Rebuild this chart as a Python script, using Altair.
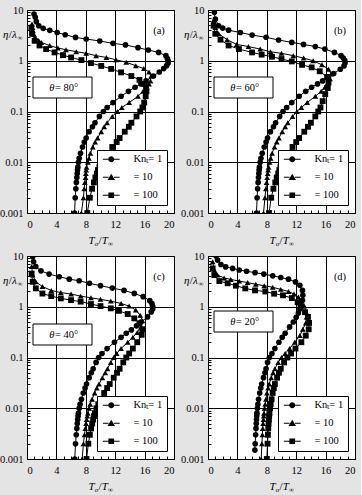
import altair as alt
import pandas as pd

# ---------------- data (T_o/T_inf , eta/lambda_inf) ----------------
# panel (a)  theta = 80 deg
A1_ETA = [8.3, 7.2, 5.9, 4.9, 4.35, 3.98, 3.6, 3.26, 2.88, 2.68, 2.45, 2.2, 2.05, 1.81, 1.63, 1.46, 1.26, 1.1, 1.0, 0.9,
          0.8, 0.7, 0.6, 0.5, 0.4, 0.35, 0.3, 0.25, 0.2, 0.15, 0.12, 0.1, 0.08, 0.06, 0.05, 0.04, 0.03, 0.025, 0.02, 0.015,
          0.012, 0.01, 0.008, 0.007, 0.006, 0.005, 0.004, 0.003, 0.002, 0.001]
A1_T = [0.95, 1.13, 1.27, 1.6, 2.2, 3.1, 4.1, 5.2, 6.6, 8.05, 9.9, 11.7, 13.4, 15.1, 16.5, 17.9, 18.9, 19.1, 19.2, 19.2,
        19.0, 18.6, 18.0, 17.2, 16.2, 15.5, 14.7, 13.8, 12.8, 11.7, 10.9, 10.4, 9.85, 9.25, 8.9, 8.45, 8.05, 7.8, 7.55, 7.28,
        7.1, 7.0, 6.92, 6.87, 6.83, 6.78, 6.72, 6.65, 6.56, 6.47]
A10_ETA = [5.3, 4.5, 3.9, 3.3, 2.88, 2.5, 2.3, 1.99, 1.78, 1.65, 1.51, 1.4, 1.26, 1.16, 1.05, 0.93, 0.8, 0.7, 0.6, 0.5,
           0.4, 0.35, 0.3, 0.25, 0.2, 0.15, 0.12, 0.1, 0.08, 0.06, 0.05, 0.04, 0.03, 0.025, 0.02, 0.015, 0.012, 0.01, 0.008,
           0.007, 0.006, 0.005, 0.004, 0.003, 0.002, 0.001]
A10_T = [0.68, 0.74, 0.81, 0.95, 1.13, 1.6, 1.95, 3.1, 4.2, 5.3, 6.7, 8.05, 9.4, 10.8, 12.1, 13.5, 14.8, 15.9, 16.6, 16.9,
         16.8, 16.6, 16.3, 15.8, 15.1, 13.9, 12.9, 12.3, 11.6, 10.9, 10.5, 10.1, 9.6, 9.27, 8.95, 8.62, 8.42, 8.28, 8.1,
         8.05, 8.0, 7.96, 7.87, 7.78, 7.68, 7.4]
A100_ETA = [4.5, 3.4, 2.47, 2.0, 1.7, 1.46, 1.29, 1.16, 1.03, 0.9, 0.79, 0.69, 0.59, 0.5, 0.42, 0.35, 0.3, 0.25, 0.2, 0.15,
            0.12, 0.1, 0.08, 0.06, 0.05, 0.04, 0.03, 0.025, 0.02, 0.015, 0.012, 0.01, 0.008, 0.007, 0.006, 0.005, 0.004,
            0.003, 0.002, 0.001]
A100_T = [0.59, 0.68, 1.04, 1.7, 2.6, 3.75, 4.9, 6.0, 7.4, 8.7, 10.1, 11.45, 12.8, 14.2, 15.3, 16.0, 16.2, 16.25, 16.15,
          15.95, 15.7, 15.4, 14.9, 14.2, 13.85, 13.3, 12.6, 12.2, 11.6, 11.0, 10.55, 10.2, 9.85, 9.65, 9.5, 9.3, 9.1, 8.85,
          8.55, 8.2]

# panel (b)  theta = 60 deg
B1_ETA = [9.0, 6.6, 4.9, 4.4, 4.0, 3.6, 3.2, 2.9, 2.56, 2.3, 2.1, 1.9, 1.7, 1.46, 1.26, 1.13, 1.02, 0.9, 0.79, 0.68, 0.56,
          0.48, 0.4, 0.35, 0.3, 0.25, 0.2, 0.15, 0.12, 0.1, 0.08, 0.06, 0.05, 0.04, 0.03, 0.025, 0.02, 0.015, 0.012, 0.01,
          0.008, 0.007, 0.006, 0.005, 0.004, 0.003, 0.002, 0.001]
B1_T = [0.86, 1.0, 1.45, 2.0, 2.8, 4.4, 6.0, 7.9, 9.6, 11.4, 13.0, 14.6, 15.9, 17.2, 18.1, 18.4, 18.6, 18.65, 18.5, 18.0,
        17.1, 16.4, 15.6, 14.9, 14.1, 13.3, 12.4, 11.4, 10.7, 10.2, 9.75, 9.2, 8.9, 8.5, 8.1, 7.9, 7.65, 7.38, 7.2, 7.1, 7.0,
        6.96, 6.92, 6.87, 6.82, 6.75, 6.68, 6.6]
B10_ETA = [6.2, 4.5, 3.4, 2.6, 2.1, 1.9, 1.7, 1.5, 1.4, 1.26, 1.13, 1.0, 0.83, 0.68, 0.55, 0.44, 0.35, 0.3, 0.25, 0.2,
           0.15, 0.12, 0.1, 0.08, 0.06, 0.05, 0.04, 0.03, 0.025, 0.02, 0.015, 0.012, 0.01, 0.008, 0.007, 0.006, 0.005,
           0.004, 0.003, 0.002, 0.001]
B10_T = [0.77, 1.0, 1.45, 2.6, 3.9, 5.5, 7.1, 8.5, 10.0, 11.6, 13.0, 14.3, 15.5, 16.4, 16.75, 16.6, 16.2, 15.9, 15.4, 14.6,
         13.5, 12.7, 12.1, 11.5, 10.85, 10.5, 10.1, 9.65, 9.35, 9.05, 8.72, 8.52, 8.38, 8.24, 8.18, 8.12, 8.05, 7.97, 7.88,
         7.75, 7.55]
B100_ETA = [4.9, 3.4, 2.6, 2.0, 1.7, 1.46, 1.32, 1.2, 1.08, 0.97, 0.83, 0.74, 0.62, 0.48, 0.37, 0.29, 0.22, 0.16, 0.12,
            0.1, 0.08, 0.06, 0.05, 0.04, 0.03, 0.025, 0.02, 0.015, 0.012, 0.01, 0.008, 0.007, 0.006, 0.005, 0.004, 0.003,
            0.002, 0.001]
B100_T = [0.77, 1.0, 1.7, 2.8, 4.2, 6.0, 7.3, 8.7, 10.0, 11.4, 12.8, 14.1, 15.2, 16.2, 16.4, 16.3, 15.95, 15.6, 15.3, 15.0,
          14.6, 14.0, 13.6, 13.1, 12.4, 12.0, 11.5, 10.9, 10.5, 10.15, 9.85, 9.7, 9.55, 9.35, 9.15, 8.9, 8.6, 8.3]

# panel (c)  theta = 40 deg
C1_ETA = [9.7, 7.7, 6.2, 5.1, 4.4, 3.9, 3.5, 3.25, 2.9, 2.6, 2.33, 2.1, 1.83, 1.58, 1.32, 1.15, 1.02, 0.9, 0.79, 0.63,
          0.5, 0.42, 0.35, 0.3, 0.25, 0.2, 0.15, 0.12, 0.1, 0.08, 0.06, 0.05, 0.04, 0.03, 0.025, 0.02, 0.015, 0.012, 0.01,
          0.008, 0.007, 0.006, 0.005, 0.004, 0.003, 0.002, 0.001]
C1_T = [0.77, 0.9, 1.2, 1.9, 3.0, 4.4, 5.75, 7.1, 8.5, 10.0, 11.6, 13.2, 14.6, 15.8, 16.7, 17.0, 17.1, 17.1, 16.9, 16.4,
        15.5, 14.9, 14.2, 13.5, 12.8, 11.9, 10.9, 10.2, 9.75, 9.4, 9.0, 8.75, 8.45, 8.1, 7.9, 7.65, 7.4, 7.22, 7.1, 7.0,
        6.95, 6.9, 6.84, 6.78, 6.7, 6.6, 6.5]
C10_ETA = [6.2, 4.2, 3.1, 2.5, 2.1, 1.9, 1.78, 1.62, 1.5, 1.4, 1.29, 1.16, 1.03, 0.86, 0.68, 0.53, 0.4, 0.31, 0.25, 0.2,
           0.15, 0.12, 0.1, 0.08, 0.06, 0.05, 0.04, 0.03, 0.025, 0.02, 0.015, 0.012, 0.01, 0.008, 0.007, 0.006, 0.005,
           0.004, 0.003, 0.002, 0.001]
C10_T = [0.63, 0.77, 1.2, 2.1, 3.3, 4.6, 6.0, 7.3, 8.7, 10.0, 11.4, 12.8, 13.9, 14.8, 15.4, 15.7, 15.5, 15.0, 14.4, 13.7,
         12.8, 12.2, 11.8, 11.4, 10.95, 10.65, 10.25, 9.8, 9.5, 9.2, 8.85, 8.6, 8.45, 8.28, 8.2, 8.12, 8.03, 7.93, 7.82,
         7.68, 7.5]
C100_ETA = [4.5, 3.1, 2.3, 1.82, 1.62, 1.46, 1.35, 1.26, 1.13, 1.03, 0.93, 0.83, 0.72, 0.59, 0.47, 0.36, 0.28, 0.2, 0.15,
            0.12, 0.1, 0.08, 0.06, 0.05, 0.04, 0.03, 0.025, 0.02, 0.015, 0.012, 0.01, 0.008, 0.007, 0.006, 0.005, 0.004,
            0.003, 0.002, 0.001]
C100_T = [0.63, 0.77, 1.2, 2.1, 3.3, 4.6, 6.0, 7.3, 8.7, 10.0, 11.4, 12.5, 13.7, 14.6, 15.3, 15.7, 15.6, 15.0, 14.4, 13.9,
          13.5, 13.1, 12.6, 12.25, 11.8, 11.25, 10.9, 10.5, 10.0, 9.7, 9.45, 9.23, 9.12, 9.0, 8.87, 8.72, 8.55, 8.35, 8.1]

# panel (d)  theta = 20 deg
D1_ETA = [10.0, 8.3, 6.8, 6.1, 5.7, 5.3, 5.0, 4.7, 4.4, 4.06, 3.77, 3.49, 3.09, 2.65, 2.1, 1.68, 1.34, 1.06, 0.9, 0.75,
          0.62, 0.5, 0.4, 0.3, 0.25, 0.2, 0.15, 0.12, 0.1, 0.08, 0.06, 0.05, 0.04, 0.03, 0.025, 0.02, 0.015, 0.012, 0.01,
          0.008, 0.007, 0.006, 0.005, 0.004, 0.003, 0.002, 0.0015]
D1_T = [1.1, 1.3, 1.76, 2.4, 3.35, 4.25, 5.25, 6.4, 7.6, 8.8, 9.9, 10.95, 11.9, 12.5, 12.85, 12.9, 12.85, 12.6, 12.5, 12.3,
        12.0, 11.6, 11.1, 10.5, 10.1, 9.65, 9.1, 8.7, 8.35, 8.1, 7.9, 7.75, 7.55, 7.3, 7.18, 7.03, 6.88, 6.79, 6.72, 6.66,
        6.63, 6.6, 6.57, 6.53, 6.48, 6.42, 6.38]
D10_ETA = [7.7, 5.3, 4.2, 3.7, 3.45, 3.2, 3.0, 2.77, 2.6, 2.42, 2.2, 2.0, 1.78, 1.55, 1.28, 1.03, 0.81, 0.63, 0.48, 0.36,
           0.27, 0.2, 0.15, 0.12, 0.1, 0.08, 0.06, 0.05, 0.04, 0.03, 0.025, 0.02, 0.015, 0.012, 0.01, 0.008, 0.007, 0.006,
           0.005, 0.004, 0.003, 0.002, 0.001]
D10_T = [0.63, 0.86, 1.3, 2.2, 3.1, 4.25, 5.4, 6.5, 7.65, 8.8, 9.9, 10.95, 11.7, 12.3, 12.76, 13.1, 13.3, 13.4, 13.3, 12.9,
         12.5, 11.8, 11.1, 10.5, 10.0, 9.55, 9.1, 8.85, 8.6, 8.33, 8.18, 8.02, 7.88, 7.78, 7.7, 7.62, 7.58, 7.54, 7.5, 7.45,
         7.4, 7.33, 7.24]
D100_ETA = [5.7, 4.2, 3.2, 2.9, 2.6, 2.3, 2.1, 2.0, 1.81, 1.68, 1.48, 1.23, 0.98, 0.78, 0.63, 0.48, 0.36, 0.27, 0.2, 0.15,
            0.12, 0.1, 0.08, 0.06, 0.05, 0.04, 0.03, 0.025, 0.02, 0.015, 0.012, 0.01, 0.008, 0.007, 0.006, 0.005, 0.004,
            0.003, 0.002, 0.001]
D100_T = [0.63, 0.86, 1.54, 2.67, 3.8, 5.07, 6.4, 7.8, 9.0, 10.2, 11.4, 12.2, 12.6, 13.2, 13.6, 13.75, 13.7, 13.3, 12.7,
          11.9, 11.3, 10.8, 10.35, 9.9, 9.65, 9.4, 9.1, 8.95, 8.8, 8.65, 8.53, 8.45, 8.36, 8.32, 8.28, 8.24, 8.2, 8.15,
          8.1, 8.0]

NB = "\u00a0"
KN_LABELS = ["Kn\u209c= 1", NB * 6 + "= 10", NB * 6 + "= 100"]
PANEL_TAGS = ["(a)", "(b)", "(c)", "(d)"]
PANEL_ANGLES = ["= 80°", "= 60°", "= 40°", "= 20°"]
BOX_TOPS = [67, 67, 68, 55]
PANEL_CURVES = [
    [(A1_T, A1_ETA), (A10_T, A10_ETA), (A100_T, A100_ETA)],
    [(B1_T, B1_ETA), (B10_T, B10_ETA), (B100_T, B100_ETA)],
    [(C1_T, C1_ETA), (C10_T, C10_ETA), (C100_T, C100_ETA)],
    [(D1_T, D1_ETA), (D10_T, D10_ETA), (D100_T, D100_ETA)],
]

X_TICKS = [0, 4, 8, 12, 16, 20]
Y_TICKS = [0.001, 0.01, 0.1, 1, 10]
X_MINOR = list(range(0, 21))
Y_MINOR = [round(m * 10.0 ** k, 4) for k in range(-3, 1) for m in range(2, 10)]

W, H = 147, 203
FONT = "'Liberation Serif', 'Times New Roman', Times, serif"

BAR_L = "M-2.8,-0.17H-0.9V0.17H-2.8Z"
BAR_R = "M0.9,-0.17H2.8V0.17H0.9Z"
LEG_PATHS = [
    BAR_L + BAR_R + "M1,0A1,1,0,1,1,-1,0A1,1,0,1,1,1,0Z",
    BAR_L + BAR_R + "M0,-1.15L1.25,0.95L-1.25,0.95Z",
    BAR_L + BAR_R + "M-0.95,-0.95H0.95V0.95H-0.95Z",
]


def txt(s, x, y, size=11, style="normal", align="left", baseline="alphabetic"):
    return alt.Chart(pd.DataFrame({"k": [0]})).mark_text(
        text=s, font=FONT, fontSize=size, fontStyle=style, align=align, baseline=baseline, color="black"
    ).encode(x=alt.value(x), y=alt.value(y))


def make_panel(tag, angle, box_top, curves):
    rows = []
    for name, (ts, es) in zip(KN_LABELS, curves):
        for i, (t, e) in enumerate(zip(ts, es)):
            rows.append({"T": t, "eta": e, "s": name, "i": i})
    df = pd.DataFrame(rows)

    xs = alt.Scale(domain=[0, 20], nice=False, zero=False)
    ys = alt.Scale(type="log", domain=[0.001, 10], nice=False)
    xenc = alt.X("T:Q", scale=xs, axis=alt.Axis(
        values=X_TICKS, grid=True, ticks=False, domain=False, labelPadding=6, title=None))
    yenc = alt.Y("eta:Q", scale=ys, axis=alt.Axis(
        values=Y_TICKS, format="~g", grid=True, ticks=False, domain=False, labelPadding=4, title=None))

    base = alt.Chart(df)
    line = base.mark_line(color="black", strokeWidth=1, clip=True).encode(
        x=xenc, y=yenc, detail="s:N", order="i:Q")
    pts = base.mark_point(filled=True, color="black", opacity=1, clip=True).encode(
        x=xenc, y=yenc,
        shape=alt.Shape("s:N", scale=alt.Scale(domain=KN_LABELS, range=["circle", "triangle-up", "square"]),
                        legend=None),
        size=alt.Size("s:N", scale=alt.Scale(domain=KN_LABELS, range=[32, 34, 34]), legend=None))
    legdf = pd.DataFrame({"s": KN_LABELS})
    leg = alt.Chart(legdf).mark_point(filled=True, fill="black", stroke="black", strokeWidth=0,
                                      size=36, clip=True).encode(
        x=alt.value(-60), y=alt.value(-60),
        shape=alt.Shape("s:N", scale=alt.Scale(domain=KN_LABELS, range=LEG_PATHS), legend=alt.Legend(
            title=None, orient="none", legendX=70, legendY=140, direction="vertical",
            fillColor="white", strokeColor="black", padding=4, symbolSize=36, symbolOffset=5,
            labelOffset=17, rowPadding=7, labelFont=FONT, labelFontSize=10.5, labelColor="black",
            symbolFillColor="black", symbolStrokeColor="black", symbolStrokeWidth=0, symbolOpacity=1,
            labelLimit=0)))
    one = pd.DataFrame({"k": [0]})
    box = alt.Chart(one).mark_rect(fill="white", stroke="black", strokeWidth=1).encode(
        x=alt.value(6), x2=alt.value(65), y=alt.value(box_top), y2=alt.value(box_top + 21))
    th = txt("θ", 27.5, box_top + 11, size=10.5, style="italic", align="right", baseline="middle")
    eq = txt(angle, 28, box_top + 11, size=10.5, baseline="middle")
    lab = txt(tag, 132, 21, size=10.5, align="center", baseline="middle")

    # axis titles  T_o / T_inf  and  eta / lambda_inf  (with real subscripts)
    x0 = W / 2 - 12
    xt = [txt("T", x0, H + 31, style="italic"),
          txt("o", x0 + 6.3, H + 33, size=7, style="italic"),
          txt("/", x0 + 10, H + 31),
          txt("T", x0 + 13.2, H + 31, style="italic"),
          txt("∞", x0 + 19.5, H + 33, size=7)]
    yt = [txt("η", -24, 28, style="italic"),
          txt("/", -18.2, 28),
          txt("λ", -15, 28, style="italic"),
          txt("∞", -9.5, 30, size=7)]

    main = alt.layer(line, pts, leg, box, th, eq, lab, *xt, *yt).resolve_scale(
        shape="independent", size="independent")

    minor = alt.Chart(df).mark_point(opacity=0, size=1).encode(
        x=alt.X("T:Q", scale=xs, axis=alt.Axis(orient="top", offset=-H, values=X_MINOR, labels=False,
                                               grid=False, domain=False, ticks=True, tickSize=3, title=None)),
        y=alt.Y("eta:Q", scale=ys, axis=alt.Axis(orient="right", offset=-W, values=Y_MINOR, labels=False,
                                                 grid=False, domain=False, ticks=True, tickSize=3, title=None)))
    return alt.layer(main, minor).resolve_axis(x="independent", y="independent").properties(width=W, height=H)


panels = [make_panel(PANEL_TAGS[k], PANEL_ANGLES[k], BOX_TOPS[k], PANEL_CURVES[k]) for k in range(4)]

chart = alt.concat(*panels, columns=2, spacing={"row": 43, "column": 34}, bounds="flush").properties(
    padding={"left": -2, "top": 4, "right": 5, "bottom": 5},
    background="#e4e4e4",
).configure_view(
    stroke="black", strokeWidth=1, fill="white"
).configure_axis(
    labelFont=FONT, labelFontSize=10.5, labelColor="black", titleFont=FONT, titleColor="black",
    gridColor="black", gridOpacity=1, gridWidth=1, tickColor="black", tickWidth=1
)

chart.save("out.html", embed_options={"renderer": "svg", "actions": False})
